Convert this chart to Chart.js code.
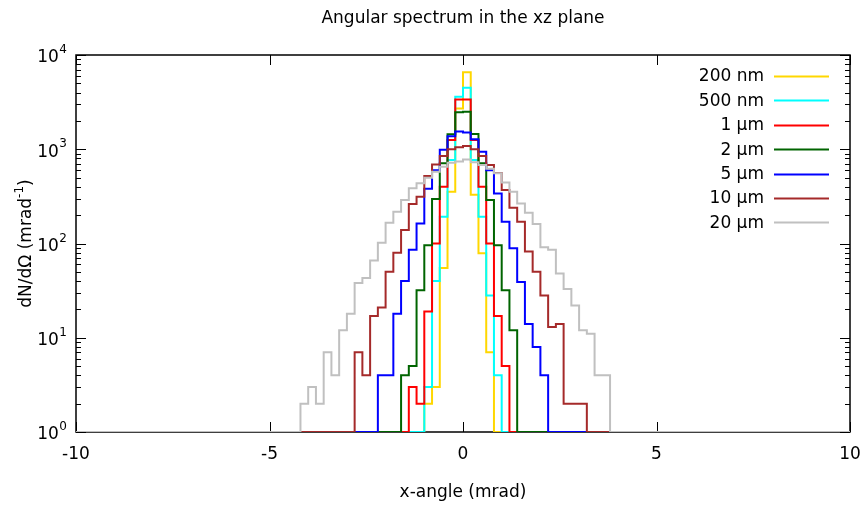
<!DOCTYPE html>
<html>
<head>
<meta charset="utf-8">
<title>Angular spectrum in the xz plane</title>
<script src="https://cdn.jsdelivr.net/npm/chart.js@4/dist/chart.umd.min.js"></script>
<style>
  html, body { margin: 0; padding: 0; background: #ffffff; }
  #wrap { width: 866px; height: 508px; position: relative; }
</style>
</head>
<body>
<div id="wrap"><canvas id="chart" width="866" height="508"></canvas></div>
<script>
// Histogram bin width (mrad) and axis ranges
const binWidth = 0.2;
const xMin = -10, xMax = 10;
const yMin = 1, yMax = 10000;

// Axis ticks
const xTickValues = [-10, -5, 0, 5, 10];
const yDecadeExponents = [0, 1, 2, 3, 4];

// Series (wavelength / size) names and colours
const seriesNames = ['200 nm', '500 nm', '1 \u00b5m', '2 \u00b5m', '5 \u00b5m', '10 \u00b5m', '20 \u00b5m'];
const seriesColors = ['#ffd700', '#00ffff', '#ff0000', '#006400', '#0000ff', '#a52a2a', '#c0c0c0'];

// Left edge (mrad) of the first non-empty bin of each series
const firstEdges = [-1.0, -1.0, -1.4, -1.6, -2.2, -2.8, -4.2];

// dN/dOmega per 0.2 mrad bin, starting at the edge above
const counts200nm = [2, 3, 55, 354, 2700, 6550, 330, 79, 7];
const counts500nm = [3, 40, 192, 770, 3600, 4500, 770, 192, 28, 4];
const counts1um   = [3, 2, 19, 100, 400, 1250, 3370, 3370, 1250, 400, 100, 17, 5];
const counts2um   = [4, 5, 32, 96, 297, 710, 1440, 2470, 2500, 1450, 710, 290, 96, 32, 12];
const counts5um   = [4, 4, 18, 40, 86, 163, 380, 600, 990, 1370, 1540, 1510, 1280, 940, 600, 340, 170, 89, 39, 14, 8, 4];
const counts10um  = [7, 4, 17, 21, 50, 80, 139, 262, 314, 520, 690, 850, 1000, 1050, 1080, 1000, 850, 680, 560, 370, 240, 170, 82, 50, 28, 13, 14, 2, 2, 2];
const counts20um  = [2, 3, 2, 7, 4, 12, 18, 38, 43, 66, 102, 166, 217, 289, 385, 435, 499, 578, 653, 720, 740, 780, 730, 680, 620, 555, 444, 354, 266, 212, 161, 91, 86, 48, 33, 22, 12, 11, 4, 4];

const allCounts = [counts200nm, counts500nm, counts1um, counts2um, counts5um, counts10um, counts20um];

const FONT = '"DejaVu Sans", Verdana, sans-serif';

// Step outline of one histogram: empty baseline outside the filled bins
function histogramPoints(firstEdge, counts) {
  const pts = [{ x: xMin, y: yMin }];
  counts.forEach((c, i) => pts.push({ x: firstEdge + i * binWidth, y: c }));
  pts.push({ x: firstEdge + counts.length * binWidth, y: yMin });
  pts.push({ x: xMax, y: yMin });
  return pts;
}

const datasets = seriesNames.map((name, i) => ({
  label: name,
  data: histogramPoints(firstEdges[i], allCounts[i]),
  borderColor: seriesColors[i],
  backgroundColor: seriesColors[i],
  borderWidth: 2,
  stepped: true,
  pointRadius: 0,
  fill: false,
  borderJoinStyle: 'miter',
  borderCapStyle: 'butt',
  order: seriesNames.length - 1 - i   // later series drawn on top
}));

// Frame and tick marks, drawn under the data
const framePlugin = {
  id: 'frame',
  beforeDatasetsDraw(chart) {
    const { ctx, chartArea: a, scales: { x, y } } = chart;
    ctx.save();
    ctx.strokeStyle = '#000000';
    ctx.lineWidth = 1;
    ctx.beginPath();
    // x ticks, bottom and top (inward)
    xTickValues.forEach(v => {
      const px = Math.round(x.getPixelForValue(v)) + 0.5;
      ctx.moveTo(px, a.bottom); ctx.lineTo(px, a.bottom - 10);
      ctx.moveTo(px, a.top); ctx.lineTo(px, a.top + 10);
    });
    // y ticks: decades and minor log ticks, left and right (inward)
    yDecadeExponents.forEach(e => {
      const base = Math.pow(10, e);
      const py = Math.round(y.getPixelForValue(base)) + 0.5;
      ctx.moveTo(a.left, py); ctx.lineTo(a.left + 10, py);
      ctx.moveTo(a.right, py); ctx.lineTo(a.right - 10, py);
      if (e < yDecadeExponents[yDecadeExponents.length - 1]) {
        for (let m = 2; m <= 9; m++) {
          const pm = Math.round(y.getPixelForValue(base * m)) + 0.5;
          ctx.moveTo(a.left, pm); ctx.lineTo(a.left + 5, pm);
          ctx.moveTo(a.right, pm); ctx.lineTo(a.right - 5, pm);
        }
      }
    });
    ctx.stroke();
    ctx.lineWidth = 1.5;
    ctx.strokeRect(a.left, a.top, a.right - a.left, a.bottom - a.top);
    ctx.restore();
  }
};

// Tick labels, axis titles, chart title and key
const textPlugin = {
  id: 'texts',
  afterDraw(chart) {
    const { ctx, chartArea: a, scales: { x, y } } = chart;
    ctx.save();
    ctx.fillStyle = '#000000';
    ctx.textBaseline = 'middle';

    // x tick labels
    ctx.font = '17px ' + FONT;
    ctx.textAlign = 'center';
    xTickValues.forEach(v => ctx.fillText(String(v), x.getPixelForValue(v), a.bottom + 23));

    // y tick labels: 10 with superscript exponent
    const supRight = 67;
    yDecadeExponents.forEach(e => {
      const py = y.getPixelForValue(Math.pow(10, e));
      ctx.font = '12px ' + FONT;
      const supW = ctx.measureText(String(e)).width;
      ctx.textAlign = 'right';
      ctx.fillText(String(e), supRight, py - 5);
      ctx.font = '17px ' + FONT;
      ctx.fillText('10', supRight - supW - 0.5, py + 3);
    });

    // title
    ctx.font = '17px ' + FONT;
    ctx.textAlign = 'center';
    ctx.fillText('Angular spectrum in the xz plane', (a.left + a.right) / 2, 19);

    // x axis title
    ctx.fillText('x-angle (mrad)', (a.left + a.right) / 2, 493);

    // y axis title (rotated) with superscript
    ctx.save();
    ctx.translate(27, (a.top + a.bottom) / 2);
    ctx.rotate(-Math.PI / 2);
    const main = 'dN/d\u03a9 (mrad';
    const sup = '-1';
    const tail = ')';
    ctx.font = '17px ' + FONT;
    const wMain = ctx.measureText(main).width;
    const wTail = ctx.measureText(tail).width;
    ctx.font = '12px ' + FONT;
    const wSup = ctx.measureText(sup).width;
    const total = wMain + wSup + wTail;
    let cx = -total / 2;
    ctx.textAlign = 'left';
    ctx.font = '17px ' + FONT;
    ctx.fillText(main, cx, 0);
    cx += wMain;
    ctx.font = '12px ' + FONT;
    ctx.fillText(sup, cx, -7);
    cx += wSup;
    ctx.font = '17px ' + FONT;
    ctx.fillText(tail, cx, 0);
    ctx.restore();

    // key
    ctx.font = '17px ' + FONT;
    ctx.textAlign = 'right';
    seriesNames.forEach((name, i) => {
      const ry = 76 + i * 24.4;
      ctx.fillStyle = '#000000';
      ctx.fillText(name, 764, ry + 1);
      ctx.strokeStyle = seriesColors[i];
      ctx.lineWidth = 2;
      ctx.beginPath();
      ctx.moveTo(774, Math.round(ry) + 0.5);
      ctx.lineTo(829, Math.round(ry) + 0.5);
      ctx.stroke();
    });
    ctx.restore();
  }
};

new Chart(document.getElementById('chart'), {
  type: 'line',
  data: { datasets },
  options: {
    responsive: false,
    animation: false,
    devicePixelRatio: 1,
    layout: { padding: { left: 76, right: 16, top: 55, bottom: 76 } },
    scales: {
      x: { type: 'linear', min: xMin, max: xMax, display: false },
      y: { type: 'logarithmic', min: yMin, max: yMax, display: false }
    },
    plugins: {
      legend: { display: false },
      tooltip: { enabled: false },
      title: { display: false }
    }
  },
  plugins: [framePlugin, textPlugin]
});
</script>
</body>
</html>
